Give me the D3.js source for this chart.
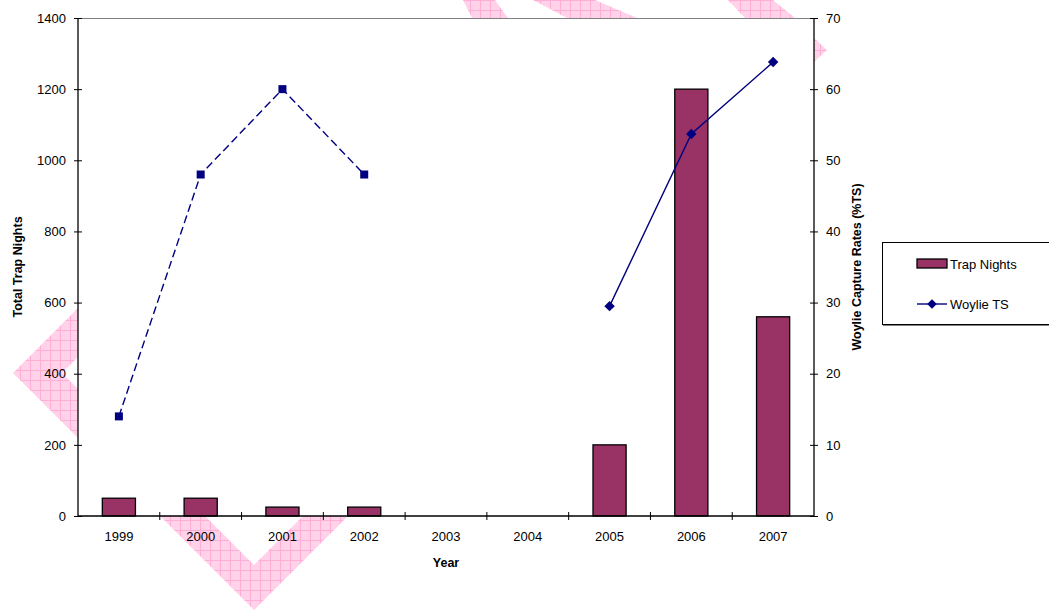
<!DOCTYPE html>
<html>
<head>
<meta charset="utf-8">
<script src="https://cdn.jsdelivr.net/npm/d3@7"></script>
<style>
  html, body { margin: 0; padding: 0; background: #fff; }
  svg { display: block; font-family: "Liberation Sans", Arial, sans-serif; }
</style>
</head>
<body>
<svg id="chart" width="1049" height="612"></svg>
<script>
// Survey years
const years = ["1999", "2000", "2001", "2002", "2003", "2004", "2005", "2006", "2007"];
// Total trap nights per year (left axis)
const trapNights = [50, 50, 25, 25, 0, 0, 200, 1200, 560];
// Woylie capture rates, % trap success (right axis); null = no survey
const woylieTS = [14, 48, 60, 48, null, null, 29.5, 53.7, 63.8];
// Axis ticks
const leftTicks = [0, 200, 400, 600, 800, 1000, 1200, 1400];
const rightTicks = [0, 10, 20, 30, 40, 50, 60, 70];

const svg = d3.select("#chart");
const plot = { left: 78, right: 814, top: 18, bottom: 516 };

// ---- background watermark bands (hatched pink) ----
const defs = svg.append("defs");
const pat = defs.append("pattern")
  .attr("id", "hatch").attr("patternUnits", "userSpaceOnUse")
  .attr("width", 10).attr("height", 10);
pat.append("rect").attr("width", 10).attr("height", 10).attr("fill", "#ffd2e9");
pat.append("path").attr("d", "M0,0.5H10M0.5,0V10")
  .attr("stroke", "#ffaed6").attr("stroke-width", 1).attr("fill", "none");

const bands = [
  [[13,373],[78,308],[78,357],[62,373],[78,389],[78,438]],
  [[160,516],[254,610],[348,516],[303,516],[254,565],[205,516]],
  [[463,0],[495,0],[508,18],[472,18]],
  [[533,0],[595,0],[637,18],[567,18]],
  [[728,0],[773,0],[795,18],[745,18]],
  [[814,38],[827,50],[814,62]]
];
svg.append("g").selectAll("path").data(bands).join("path")
  .attr("d", d => "M" + d.map(p => p.join(",")).join("L") + "Z")
  .attr("fill", "url(#hatch)");

// plot area
svg.append("rect")
  .attr("x", plot.left).attr("y", plot.top)
  .attr("width", plot.right - plot.left).attr("height", plot.bottom - plot.top)
  .attr("fill", "#fff");
svg.append("line")
  .attr("x1", plot.left).attr("x2", plot.right)
  .attr("y1", plot.top + 0.5).attr("y2", plot.top + 0.5)
  .attr("stroke", "#808080").attr("stroke-width", 1.2);

// ---- scales ----
const x = d3.scaleBand().domain(years).range([plot.left, plot.right]).padding(0);
const yL = d3.scaleLinear().domain([0, 1400]).range([plot.bottom, plot.top]);
const yR = d3.scaleLinear().domain([0, 70]).range([plot.bottom, plot.top]);

// ---- bars ----
const barW = x.bandwidth() * 0.405;
svg.append("g").selectAll("rect")
  .data(years.map((y, i) => ({ year: y, v: trapNights[i] })).filter(d => d.v > 0))
  .join("rect")
  .attr("x", d => x(d.year) + x.bandwidth() / 2 - barW / 2)
  .attr("y", d => yL(d.v))
  .attr("width", barW)
  .attr("height", d => yL(0) - yL(d.v))
  .attr("fill", "#993366")
  .attr("stroke", "#000").attr("stroke-width", 1.3);

// ---- axes ----
const tickFont = g => g.selectAll("text")
  .attr("font-size", 13).attr("fill", "#000")
  .attr("font-family", "'Liberation Sans', Arial, sans-serif");

const axL = svg.append("g").attr("transform", `translate(${plot.left},0)`)
  .call(d3.axisLeft(yL).tickValues(leftTicks).tickSize(4).tickPadding(8).tickFormat(d3.format("d")));
axL.call(tickFont);
axL.selectAll(".tick line").attr("x2", 4).attr("x1", -4);
axL.select(".domain").attr("d", `M0,${plot.top}V${plot.bottom}`);

const axR = svg.append("g").attr("transform", `translate(${plot.right},0)`)
  .call(d3.axisRight(yR).tickValues(rightTicks).tickSize(4).tickPadding(8));
axR.call(tickFont);
axR.selectAll(".tick line").attr("x1", -4).attr("x2", 4);
axR.select(".domain").attr("d", `M0,${plot.top}V${plot.bottom}`);

const axB = svg.append("g").attr("transform", `translate(0,${plot.bottom})`)
  .call(d3.axisBottom(x).tickSize(0).tickPadding(16));
axB.call(tickFont);
axB.select(".domain").attr("d", `M${plot.left},0H${plot.right}`);
// category separators crossing the axis
axB.selectAll("line.sep")
  .data(years.slice(1))
  .join("line").attr("class", "sep")
  .attr("x1", d => x(d)).attr("x2", d => x(d))
  .attr("y1", -4).attr("y2", 4)
  .attr("stroke", "#000");
svg.selectAll(".domain").attr("stroke", "#000").attr("stroke-width", 1.3);
svg.selectAll(".tick line").attr("stroke", "#000");

// ---- capture-rate line ----
const pts = years.map((y, i) => ({ year: y, v: woylieTS[i] }));
const segments = [];
let cur = [];
pts.forEach(p => {
  if (p.v == null) { if (cur.length) segments.push(cur); cur = []; }
  else cur.push(p);
});
if (cur.length) segments.push(cur);

const cx = d => x(d.year) + x.bandwidth() / 2;
const line = d3.line().x(cx).y(d => yR(d.v));
const navy = "#000080";

segments.forEach((seg, si) => {
  const early = si === 0;
  svg.append("path").datum(seg)
    .attr("d", line).attr("fill", "none")
    .attr("stroke", navy).attr("stroke-width", 1.4)
    .attr("stroke-dasharray", early ? "8,4" : null);
  const sym = d3.symbol().type(early ? d3.symbolSquare : d3.symbolDiamond2).size(early ? 64 : 70);
  svg.append("g").selectAll("path").data(seg).join("path")
    .attr("transform", d => `translate(${cx(d)},${yR(d.v)})`)
    .attr("d", sym).attr("fill", navy);
});

// ---- axis titles ----
svg.append("text")
  .attr("transform", `translate(22,${(plot.top + plot.bottom) / 2}) rotate(-90)`)
  .attr("text-anchor", "middle").attr("font-size", 12.5).attr("font-weight", "bold")
  .text("Total Trap Nights");
svg.append("text")
  .attr("transform", `translate(861,${(plot.top + plot.bottom) / 2}) rotate(-90)`)
  .attr("text-anchor", "middle").attr("font-size", 12.5).attr("font-weight", "bold")
  .text("Woylie Capture Rates (%TS)");
svg.append("text")
  .attr("x", (plot.left + plot.right) / 2).attr("y", 567)
  .attr("text-anchor", "middle").attr("font-size", 12.5).attr("font-weight", "bold")
  .text("Year");

// ---- legend ----
const lg = svg.append("g");
lg.append("rect").attr("x", 882.5).attr("y", 242.5).attr("width", 170).attr("height", 82)
  .attr("fill", "#fff").attr("stroke", "#000").attr("stroke-width", 1);
lg.append("line").attr("x1", 883).attr("x2", 1049).attr("y1", 325.5).attr("y2", 325.5)
  .attr("stroke", "#808080").attr("stroke-width", 1);
lg.append("rect").attr("x", 917).attr("y", 259).attr("width", 30).attr("height", 9)
  .attr("fill", "#993366").attr("stroke", "#000").attr("stroke-width", 1.3);
lg.append("text").attr("x", 950).attr("y", 268.5).attr("font-size", 13).text("Trap Nights");
lg.append("line").attr("x1", 917).attr("x2", 947).attr("y1", 304).attr("y2", 304)
  .attr("stroke", navy).attr("stroke-width", 1.4);
lg.append("path").attr("transform", "translate(932,304)")
  .attr("d", d3.symbol().type(d3.symbolDiamond2).size(60)).attr("fill", navy);
lg.append("text").attr("x", 950).attr("y", 308.5).attr("font-size", 13).text("Woylie TS");
</script>
</body>
</html>
